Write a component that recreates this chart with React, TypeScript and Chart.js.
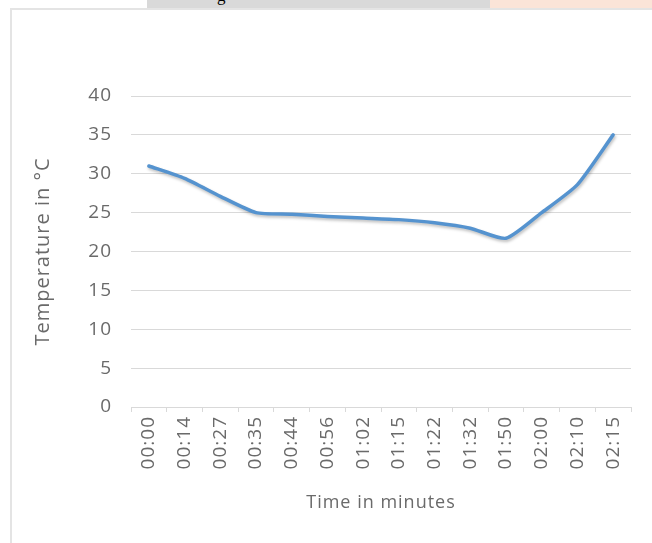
import React, { useEffect, useRef } from "react";
import { Chart, registerables } from "chart.js";

Chart.register(...registerables);

const timeLabels = ["00:00", "00:14", "00:27", "00:35", "00:44", "00:56", "01:02", "01:15", "01:22", "01:32", "01:50", "02:00", "02:10", "02:15"];
const temperatures = [31, 29.4, 27.1, 25, 24.8, 24.5, 24.3, 24.1, 23.7, 23, 21.7, 25, 28.6, 35];
const yTickMin = 0;
const yTickMax = 40;
const yTickStep = 5;
const yAxisTitle = "Temperature in °C";
const xAxisTitle = "Time in minutes";

const FONT = "'Open Sans', Lato, sans-serif";
const TEXT = "#6a6a6a";

const lookPlugin = {
  id: "lookPlugin",
  beforeDraw(chart: any) {
    (chart.ctx as any).letterSpacing = "1px";
  },
  beforeDatasetDraw(chart: any) {
    const ctx = chart.ctx;
    ctx.save();
    ctx.shadowColor = "rgba(0,0,0,0.25)";
    ctx.shadowBlur = 3;
    ctx.shadowOffsetX = 1;
    ctx.shadowOffsetY = 2;
  },
  afterDatasetDraw(chart: any) {
    chart.ctx.restore();
  },
};

export default function App() {
  const ref = useRef<HTMLCanvasElement | null>(null);

  useEffect(() => {
    if (!ref.current) return;
    const chart = new Chart(ref.current, {
      type: "line",
      data: {
        labels: timeLabels,
        datasets: [
          {
            data: temperatures,
            borderColor: "#5593CF",
            borderWidth: 3.5,
            pointRadius: 0,
            tension: 0.2,
            fill: false,
            borderCapStyle: "round",
            borderJoinStyle: "round",
          },
        ],
      },
      plugins: [lookPlugin],
      options: {
        animation: false,
        responsive: false,
        maintainAspectRatio: false,
        layout: { padding: { left: 30, top: 96, right: 21, bottom: 20 } },
        plugins: { legend: { display: false }, tooltip: { enabled: false } },
        scales: {
          x: {
            type: "category",
            offset: true,
            grid: {
              offset: true,
              drawOnChartArea: false,
              drawTicks: true,
              tickLength: 5,
              color: "#d9d9d9",
            },
            border: { color: "#d9d9d9", width: 1 },
            ticks: {
              color: TEXT,
              font: { family: FONT, size: 19, weight: 400 },
              minRotation: 90,
              maxRotation: 90,
              autoSkip: false,
              padding: 4,
            },
            title: {
              display: true,
              text: xAxisTitle,
              color: TEXT,
              font: { family: FONT, size: 18, weight: 400 },
              padding: { top: 4, bottom: 9 },
            },
            afterFit(scale: any) {
              scale.height = 116;
            },
          },
          y: {
            min: yTickMin,
            max: yTickMax,
            grid: { color: "#d9d9d9", drawTicks: false, lineWidth: 1 },
            border: { display: false },
            ticks: {
              stepSize: yTickStep,
              color: TEXT,
              font: { family: FONT, size: 19, weight: 400 },
              padding: 19,
            },
            title: {
              display: true,
              text: yAxisTitle,
              color: TEXT,
              font: { family: FONT, size: 20, weight: 400 },
              padding: { top: 1, bottom: 4 },
            },
            afterFit(scale: any) {
              scale.width = 101;
            },
          },
        },
      },
    });
    return () => chart.destroy();
  }, []);

  return (
    <div style={{ position: "fixed", left: 0, top: 0, width: 652, height: 543, background: "#fff", overflow: "hidden" }}>
      <div style={{ position: "absolute", left: 147, top: 0, width: 343, height: 8, background: "#d9d9d9", overflow: "hidden" }}>
        <span style={{ position: "absolute", left: 70, top: -13, fontFamily: "'Liberation Serif', serif", fontSize: 17, color: "#000", lineHeight: "17px" }}>g</span>
      </div>
      <div style={{ position: "absolute", left: 490, top: 0, width: 162, height: 8, background: "#fbe4d8" }} />
      <div style={{ position: "absolute", left: 10, top: 8, width: 660, height: 560, borderTop: "2px solid #e4e4e4", borderLeft: "2px solid #e4e4e4", boxSizing: "border-box" }} />
      <canvas ref={ref} width={652} height={543} style={{ position: "absolute", left: 0, top: 0, width: 652, height: 543 }} />
    </div>
  );
}
